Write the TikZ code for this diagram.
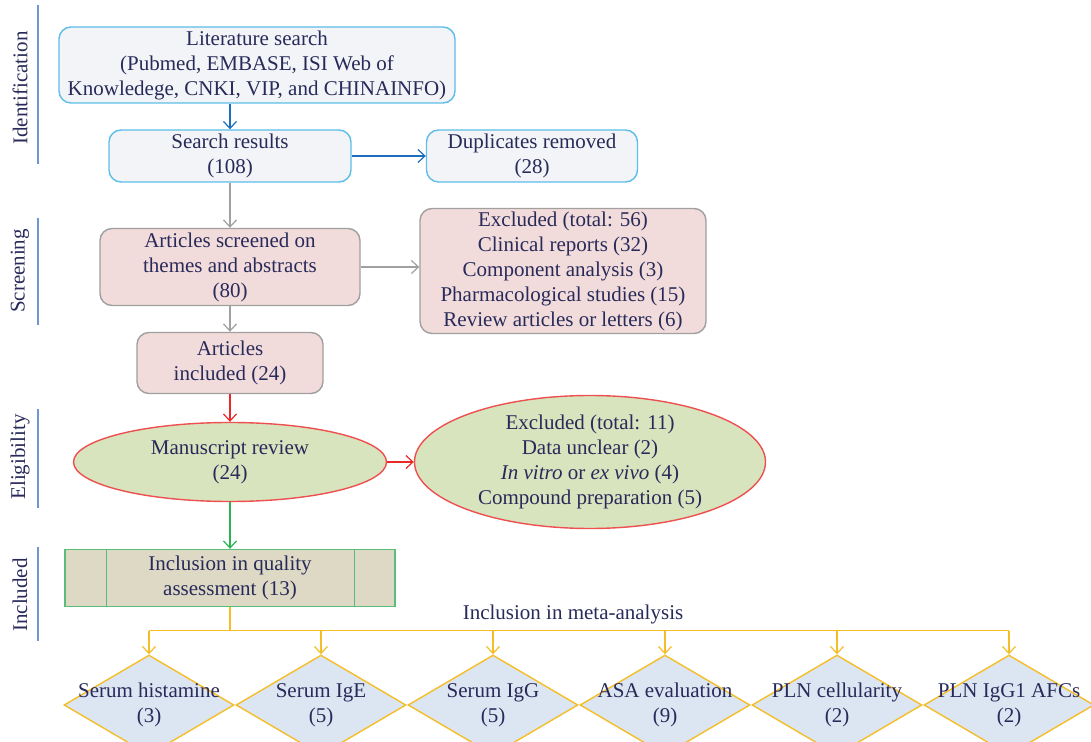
\documentclass[tikz,border=0pt]{standalone}
\usepackage{fontspec}
\setmainfont{Liberation Serif}
\usepackage{tikz}
\usetikzlibrary{arrows.meta,positioning,calc,shapes.geometric}
\definecolor{navy}{RGB}{40,42,90}
\definecolor{idfill}{RGB}{242,244,247}
\definecolor{idline}{RGB}{93,190,232}
\definecolor{idarrow}{RGB}{30,110,190}
\definecolor{scfill}{RGB}{242,220,219}
\definecolor{scline}{RGB}{160,160,160}
\definecolor{elfill}{RGB}{215,228,189}
\definecolor{elline}{RGB}{238,80,80}
\definecolor{elarrow}{RGB}{235,40,40}
\definecolor{qufill}{RGB}{221,217,196}
\definecolor{quline}{RGB}{90,190,120}
\definecolor{quarrow}{RGB}{40,180,80}
\definecolor{yel}{RGB}{245,190,40}
\definecolor{msfill}{RGB}{220,230,242}
\definecolor{sideline}{RGB}{110,150,210}
\tikzset{box/.style={draw,align=center,text=navy,inner sep=0pt,line width=0.7pt,
  font=\fontsize{10.5}{12.5}\selectfont}}
\tikzstyle{idn}=[box, rounded corners=6pt, fill=idfill, draw=idline]
\tikzstyle{scr}=[box, rounded corners=6pt, fill=scfill, draw=scline]
\tikzstyle{elg}=[box, ellipse, fill=elfill, draw=elline]
\tikzstyle{qua}=[box, rectangle, fill=qufill, draw=quline]
\tikzstyle{meas}=[box, diamond, fill=msfill, draw=yel, minimum width=85pt, minimum height=50pt]
\tikzstyle{side}=[rotate=90, text=navy, font=\fontsize{10.5}{12.5}\selectfont]
\newcommand{\dtext}[2]{\makebox[0pt]{\raisebox{-2.5pt}[0pt][0pt]{\begin{tabular}{@{}c@{}}#1\\#2\end{tabular}}}}

\begin{document}
\begin{tikzpicture}[>={Straight Barb[length=3.5pt,width=6.5pt]},line width=0.6pt]
    \useasboundingbox (0,0) rectangle (545.5pt,-371pt);
    % phase labels
    \node (ident) [side] at (10pt,-44pt) {Identification};
    \node (scrn) [side] at (10pt,-135.5pt) {Screening};
    \node (elig) [side] at (10pt,-228.5pt) {Eligibility};
    \node (incd) [side] at (10pt,-297.5pt) {Included};
    \draw[sideline] (19pt,-2.5pt) -- (19pt,-82pt);
    \draw[sideline] (19pt,-109pt) -- (19pt,-162.5pt);
    \draw[sideline] (19pt,-204.5pt) -- (19pt,-254pt);
    \draw[sideline] (19pt,-273.5pt) -- (19pt,-320.5pt);
    % main column
    \node (lit) [idn,minimum width=198pt,minimum height=38pt] at (128.5pt,-32.5pt)
        {Literature search\\(Pubmed, EMBASE, ISI Web of\\Knowledege, CNKI, VIP, and CHINAINFO)};
    \node (search) [idn,below of=lit,node distance=45.5pt,xshift=-13.5pt,minimum width=121pt,minimum height=26pt] {Search results\\(108)};
    \node (dup) [idn,right of=search,node distance=151pt,minimum width=105.5pt,minimum height=26pt] {Duplicates removed\\(28)};
    \node (screen) [scr,below of=search,node distance=55.5pt,minimum width=130pt,minimum height=38.5pt] {Articles screened on\\themes and abstracts\\(80)};
    \node (excl) [scr,right of=screen,node distance=166.5pt,yshift=-2pt,minimum width=143pt,minimum height=62.5pt]
        {Excluded (total: 56)\\Clinical reports (32)\\Component analysis (3)\\Pharmacological studies (15)\\Review articles or letters (6)};
    \node (incl) [scr,below of=screen,node distance=48pt,minimum width=93pt,minimum height=30.5pt] {Articles\\included (24)};
    \node (review) [elg,below of=incl,node distance=49.5pt,minimum width=156.5pt,minimum height=39.5pt] {Manuscript review\\(24)};
    \node (exclb) [elg,right of=review,node distance=180pt,minimum width=175.5pt,minimum height=60pt]
        {Excluded (total: 11)\\Data unclear (2)\\\textit{In vitro} or \textit{ex vivo} (4)\\Compound preparation (5)};
    \node (qual) [qua,below of=review,node distance=58pt,minimum width=165pt,minimum height=28.5pt] {Inclusion in quality\\assessment (13)};
    \draw[quline,line width=0.7pt] ($(qual.north west)+(21pt,0)$) -- ($(qual.south west)+(21pt,0)$);
    \draw[quline,line width=0.7pt] ($(qual.north east)+(-20.5pt,0)$) -- ($(qual.south east)+(-20.5pt,0)$);
    \node (meta) [text=navy,font=\fontsize{10.5}{12.5}\selectfont] at (286.5pt,-307pt) {Inclusion in meta-analysis};
    % outcomes
    \node (d1) [meas] at (74.5pt,-352.5pt) {\dtext{Serum histamine}{(3)}};
    \node (d2) [meas,right of=d1,node distance=86pt] {\dtext{Serum IgE}{(5)}};
    \node (d3) [meas,right of=d2,node distance=86pt] {\dtext{Serum IgG}{(5)}};
    \node (d4) [meas,right of=d3,node distance=86pt] {\dtext{ASA evaluation}{(9)}};
    \node (d5) [meas,right of=d4,node distance=86pt] {\dtext{PLN cellularity}{(2)}};
    \node (d6) [meas,right of=d5,node distance=86pt] {\dtext{PLN IgG1 AFCs}{(2)}};
    \coordinate (bus) at ($(qual.south)+(0,-11.75pt)$);
    % connectors
    \draw[idarrow,->] (search.north |- lit.south) -- (search.north);
    \draw[idarrow,->] (search) -- (dup);
    \draw[scline,->] (search) -- (screen);
    \draw[scline,->] (screen.east) -- (screen.east -| excl.west);
    \draw[scline,->] (screen) -- (incl);
    \draw[elarrow,->] (incl) -- (review);
    \draw[elarrow,->] (review) -- (exclb);
    \draw[quarrow,->] (review) -- (qual);
    \draw[yel] (qual.south) -- (bus);
    \draw[yel] (d1.north |- bus) -- (d6.north |- bus);
    \draw[yel,->] (d1.north |- bus) -- (d1.north);
    \draw[yel,->] (d2.north |- bus) -- (d2.north);
    \draw[yel,->] (d3.north |- bus) -- (d3.north);
    \draw[yel,->] (d4.north |- bus) -- (d4.north);
    \draw[yel,->] (d5.north |- bus) -- (d5.north);
    \draw[yel,->] (d6.north |- bus) -- (d6.north);
\end{tikzpicture}
\end{document}
